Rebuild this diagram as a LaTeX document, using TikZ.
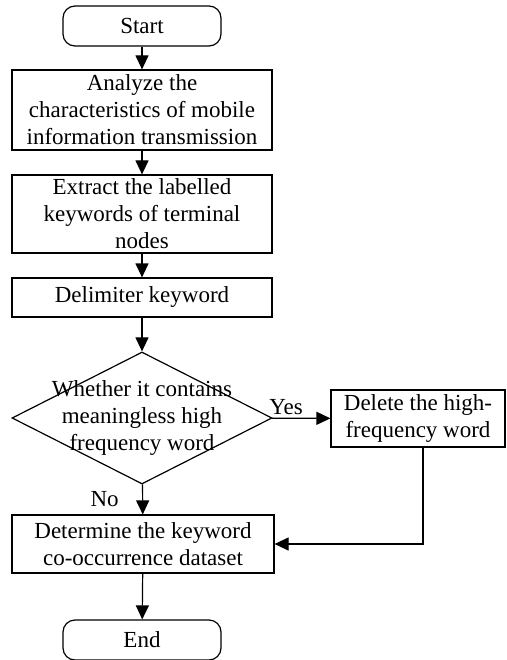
\documentclass[tikz,border=0pt]{standalone}
\usepackage{fontspec}
\setmainfont{Liberation Serif}
\usetikzlibrary{calc,shapes.geometric,arrows.meta}

\begin{document}
\begin{tikzpicture}[x=1pt, y=-1pt,
    every node/.style={font=\fontsize{23}{27}\selectfont},
    process/.style={draw, line width=1.2pt, rectangle, align=center, inner sep=0pt},
    terminal/.style={draw, line width=1.2pt, rectangle, rounded corners=12pt, minimum width=158pt, minimum height=40pt},
    decision/.style={draw, line width=1.2pt, diamond, minimum width=260pt, minimum height=132pt, inner sep=0pt},
    flow/.style={line width=1.2pt, -{Triangle[width=13pt,length=14pt]}}]
    \useasboundingbox (0,0) rectangle (506,660);
    % main column
    \node[terminal] (start) at (142,26) {Start};
    \node[process, minimum width=260pt, minimum height=80pt] (analyze) at (142,110)
        {Analyze the\\characteristics of mobile\\information transmission};
    \node[process, minimum width=260pt, minimum height=78pt] (extract) at (142,214)
        {Extract the labelled\\keywords of terminal\\nodes};
    \node[process, minimum width=260pt, minimum height=39pt] (delim) at (142,297.5) {Delimiter keyword};
    \node[decision] (ask) at (142,418) {};
    \node[align=center] (asktext) at (ask.center)
        {Whether it contains\\meaningless high\\frequency word};
    \node[process, minimum width=262pt, minimum height=58pt] (determine) at (143,544)
        {Determine the keyword\\co-occurrence dataset};
    \node[terminal] (end) at (142,640) {End};
    % side branch
    \node[process, minimum width=174pt, minimum height=57pt] (delete) at (418,418.5)
        {Delete the high-\\frequency word};

    \draw[flow] (start) -- (analyze);
    \draw[flow] (analyze) -- (extract);
    \draw[flow] (extract) -- (delim);
    \draw[flow] (delim) -- (ask);
    \draw[flow] (ask) -- node[above, pos=0.24] {Yes} (delete);
    \draw[flow] (ask) -- node[left=20pt, pos=0.5] {No} (determine);
    \draw[flow] ([xshift=5pt]delete.south) |- (determine.east);
    \draw[flow] (determine) -- (end);
\end{tikzpicture}
\end{document}
